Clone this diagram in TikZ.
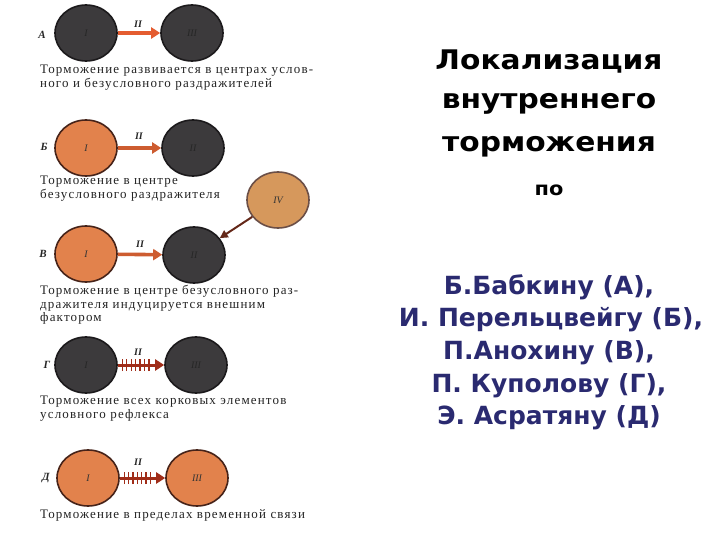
\documentclass[tikz,border=0pt]{standalone}
\usepackage{fontspec}
\setmainfont{Liberation Serif}
\newfontfamily\capfont[LetterSpace=9]{Liberation Serif}
\newfontfamily\titlefont{DejaVu Sans}
\usetikzlibrary{arrows.meta,shapes.geometric,decorations.markings}
\definecolor{darkc}{RGB}{60,58,60}
\definecolor{darkb}{RGB}{28,26,28}
\definecolor{orangec}{RGB}{226,130,76}
\definecolor{orangeb}{RGB}{70,35,25}
\definecolor{tanc}{RGB}{214,152,92}
\definecolor{arrowA}{RGB}{228,92,48}
\definecolor{arrowB}{RGB}{205,92,48}
\definecolor{hatchc}{RGB}{160,45,25}
\definecolor{ivarrow}{RGB}{100,40,25}
\definecolor{navy}{RGB}{42,42,112}
\definecolor{capc}{RGB}{35,35,35}
\tikzset{
  cell/.style={ellipse, minimum width=62pt, minimum height=56pt, inner sep=0pt, line width=1.6pt, font=\itshape\fontsize{10}{10}\selectfont},
  darkcell/.style={cell, fill=darkc, draw=darkb, text=black!85},
  orcell/.style={cell, fill=orangec, draw=orangeb, text=black!80},
  tancell/.style={cell, fill=tanc, draw=orangeb!80, text=black!80},
  rowlab/.style={font=\bfseries\itshape\fontsize{11}{11}\selectfont, text=black!85},
  iilab/.style={font=\bfseries\itshape\fontsize{10}{10}\selectfont, text=black!85},
  caption/.style={anchor=north west, align=left, inner sep=0pt, text=capc, font=\capfont\fontsize{13}{13.5}\selectfont},
  link/.style={line width=3.6pt, -{Triangle[length=9pt,width=11pt]}},
  hatched/.style={line width=3pt, color=hatchc, -{Triangle[length=9pt,width=11pt]},
    postaction={decorate}, decoration={markings,
      mark=between positions 0.1 and 0.76 step 0.095 with {\draw[-, line width=1.3pt, hatchc] (0,-6pt)--(0,6pt);}}},
  title/.style={font=\titlefont\bfseries\fontsize{27}{27}\selectfont, text=black},
  names/.style={font=\titlefont\bfseries\fontsize{25}{25}\selectfont, text=navy}
}
\begin{document}
\begin{tikzpicture}[x=1pt,y=-1pt]
\useasboundingbox (0,0) rectangle (720,540);
% Row A
\node[darkcell] (a1) at (86,33) {I};
\node[darkcell] (a3) at (192,33) {III};
\node[rowlab] (la) at (42,35) {А};
\node[iilab] (ia) at (138,24) {II};
\draw[link, arrowA] (a1) -- (a3);
\node[caption] (ca) at (40,65) {Торможение развивается в центрах услов-\\ного и безусловного раздражителей};
% Row B
\node[orcell] (b1) at (86,148) {I};
\node[darkcell] (b2) at (193,148) {II};
\node[rowlab] (lb) at (44,147) {Б};
\node[iilab] (ib) at (139,136) {II};
\draw[link, arrowB] (b1) -- (b2);
\node[caption] (cb) at (40,176) {Торможение в центре\\безусловного раздражителя};
% Row C
\node[tancell] (c4) at (278,200) {IV};
\node[orcell] (c1) at (86,254) {I};
\node[darkcell] (c2) at (194,255) {II};
\node[rowlab] (lc) at (43,254) {В};
\node[iilab] (ic) at (140,244) {II};
\draw[link, arrowB] (c1) -- (c2);
\draw[line width=2pt, ivarrow, -{Triangle[length=8pt,width=8pt]}] (c4) -- (c2);
\node[caption] (cc) at (40,285) {Торможение в центре безусловного раз-\\дражителя индуцируется внешним\\фактором};
% Row D
\node[darkcell] (d1) at (86,365) {I};
\node[darkcell] (d3) at (196,365) {III};
\node[rowlab] (ld) at (47,365) {Г};
\node[iilab] (id) at (138,352) {II};
\draw[hatched] (d1) -- (d3);
\node[caption] (cd) at (40,396) {Торможение всех корковых элементов\\условного рефлекса};
% Row E
\node[orcell] (e1) at (88,478) {I};
\node[orcell] (e3) at (197,478) {III};
\node[rowlab] (le) at (46,478) {Д};
\node[iilab] (ie) at (138,462) {II};
\draw[hatched] (e1) -- (e3);
\node[caption] (ce) at (40,509) {Торможение в пределах временной связи};
% Right text
\node[title] (t1) at (549,62) {\scalebox{1.1}[1]{Локализация}};
\node[title] (t2) at (549,104) {\scalebox{1.1}[1]{внутреннего}};
\node[title] (t3) at (549,147) {\scalebox{1.1}[1]{торможения}};
\node[font=\titlefont\bfseries\fontsize{19}{19}\selectfont] (t4) at (549,190) {\scalebox{1.1}[1]{по}};
\node[names] (n1) at (549,287) {Б.Бабкину (А),};
\node[names] (n2) at (551,320) {И. Перельцвейгу (Б),};
\node[names] (n3) at (549,353) {П.Анохину (В),};
\node[names] (n4) at (549,386) {П. Куполову (Г),};
\node[names] (n5) at (549,418) {Э. Асратяну (Д)};
\end{tikzpicture}
\end{document}
